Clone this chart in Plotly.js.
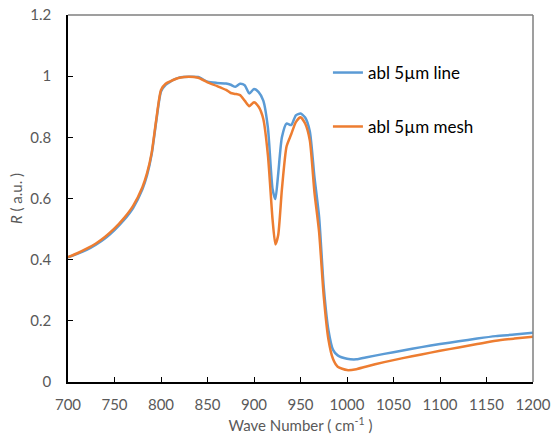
<!DOCTYPE html>
<html>
<head>
<meta charset="utf-8">
<script src="https://cdn.plot.ly/plotly-3.0.1.min.js"></script>
<style>html,body{margin:0;padding:0;background:#fff;}#chart{width:552px;height:438px;}</style>
</head>
<body>
<div id="chart"></div>
<script>
const waveNumber = [700,710,720,730,740,750,760,770,780,785,790,795,800,805,810,815,820,830,840,850,860,870,875,880,885,890,895,900,905,910,915,920,923,926,930,935,940,945,950,955,960,965,970,975,980,985,990,1000,1010,1020,1040,1060,1080,1100,1120,1140,1160,1180,1200];
const lineR = [0.408,0.419,0.432,0.449,0.470,0.497,0.529,0.569,0.630,0.676,0.745,0.855,0.950,0.972,0.982,0.990,0.996,0.998,0.997,0.982,0.978,0.976,0.972,0.965,0.975,0.970,0.943,0.958,0.948,0.920,0.830,0.630,0.598,0.680,0.800,0.845,0.840,0.872,0.878,0.865,0.820,0.670,0.540,0.310,0.170,0.105,0.087,0.076,0.074,0.080,0.092,0.103,0.114,0.124,0.133,0.142,0.150,0.155,0.161];
const meshR = [0.408,0.421,0.436,0.453,0.475,0.502,0.535,0.576,0.637,0.683,0.750,0.860,0.955,0.975,0.983,0.990,0.995,0.998,0.995,0.980,0.968,0.955,0.945,0.942,0.938,0.920,0.902,0.915,0.900,0.860,0.740,0.530,0.450,0.480,0.630,0.770,0.810,0.850,0.866,0.845,0.790,0.620,0.490,0.280,0.140,0.075,0.050,0.039,0.042,0.050,0.065,0.078,0.090,0.102,0.113,0.124,0.135,0.142,0.148];
const seriesNames = ["abl 5µm line","abl 5µm mesh"];

const tickFont = {family: "Lato, 'Open Sans', sans-serif", size: 15, color: "#595959"};
const titleFont = {family: "Lato, 'Open Sans', sans-serif", size: 15, color: "#595959"};
const traces = [
  {x: waveNumber, y: lineR, name: seriesNames[0], type: "scatter", mode: "lines",
   line: {color: "#5B9BD5", width: 2.5, shape: "spline", smoothing: 0.6}, legend: "legend"},
  {x: waveNumber, y: meshR, name: seriesNames[1], type: "scatter", mode: "lines",
   line: {color: "#ED7D31", width: 2.5, shape: "spline", smoothing: 0.6}, legend: "legend2"}
];
const legendFont = {family: "Lato, 'Open Sans', sans-serif", size: 17, color: "#000"};
const layout = {
  width: 552, height: 438,
  margin: {l: 68, r: 19, t: 15, b: 56},
  paper_bgcolor: "#fff", plot_bgcolor: "#fff",
  showlegend: true,
  legend: {x: 0.559, y: 0.842, xanchor: "left", yanchor: "middle", font: legendFont, bgcolor: "rgba(0,0,0,0)", itemwidth: 30},
  legend2: {x: 0.559, y: 0.695, xanchor: "left", yanchor: "middle", font: legendFont, bgcolor: "rgba(0,0,0,0)", itemwidth: 30},
  xaxis: {
    range: [700, 1200], dtick: 50, tick0: 700,
    showline: true, linecolor: "#000", linewidth: 1.5,
    ticks: "inside", ticklen: 5, tickcolor: "#000", tickwidth: 1,
    ticklabelstandoff: 8,
    showgrid: false, zeroline: false, tickfont: tickFont,
    title: {text: "Wave Number ( cm<sup>-1</sup> )", font: titleFont, standoff: 9}
  },
  yaxis: {
    range: [0, 1.2], dtick: 0.2, tick0: 0,
    showline: true, linecolor: "#000", linewidth: 1.5,
    ticks: "inside", ticklen: 5, tickcolor: "#000", tickwidth: 1,
    ticklabelstandoff: 12,
    showgrid: false, zeroline: false, tickfont: tickFont,
    title: {text: "<i>R</i> ( a.u. )", font: titleFont, standoff: 4}
  },
  shapes: [
    {type: "line", xref: "paper", yref: "paper", x0: 0, x1: 1, y0: 1, y1: 1, line: {color: "#7f7f7f", width: 1.5}},
    {type: "line", xref: "paper", yref: "paper", x0: 1, x1: 1, y0: 0, y1: 1, line: {color: "#7f7f7f", width: 1.5}}
  ]
};
Plotly.newPlot("chart", traces, layout, {displayModeBar: false});
</script>
</body>
</html>
